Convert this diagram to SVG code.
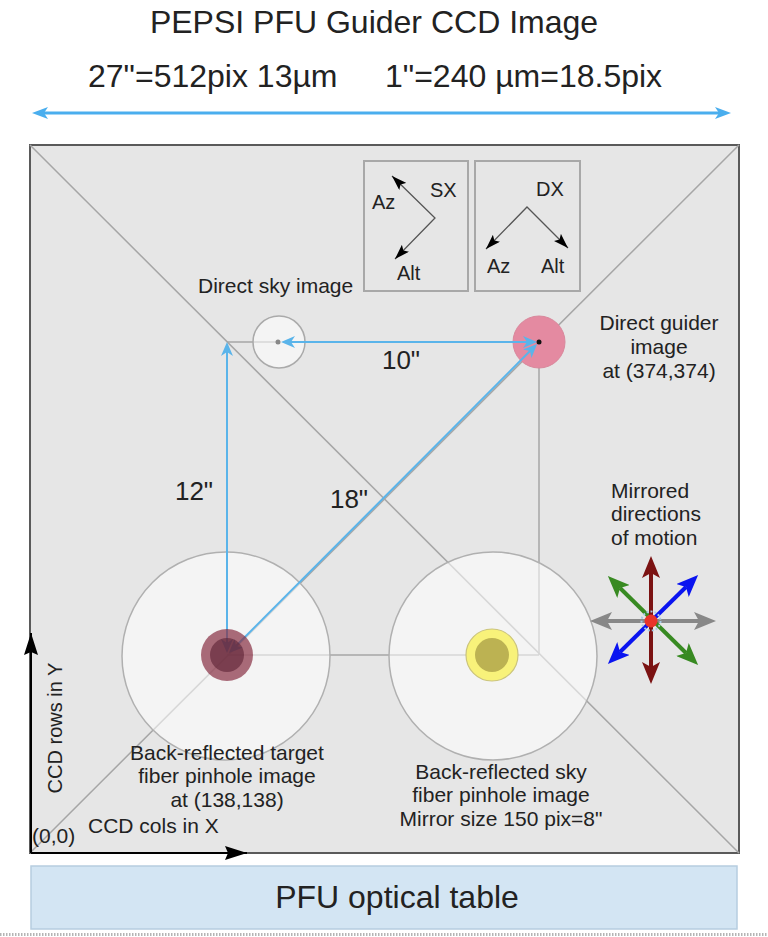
<svg xmlns="http://www.w3.org/2000/svg" width="768" height="937" viewBox="0 0 768 937">
<defs>
<style>
text{font-family:"Liberation Sans",Arial,sans-serif;fill:#222}
.big{font-size:32px}
.lbl{font-size:21px}
.sm{font-size:20px}
.dist{font-size:26px}
.mid{text-anchor:middle}
.guide{stroke:#a6a6a6;stroke-width:1.5;fill:none}
.blue{stroke:#5ab4ea;stroke-width:2;fill:none;marker-start:url(#ab);marker-end:url(#ab)}
.mirror{fill:#ffffff;fill-opacity:0.55;stroke:#b0b0b0;stroke-width:1.5}
.box{fill:#e6e6e6;stroke:#a8a8a8;stroke-width:2}
.dir{stroke:#555;stroke-width:1.3;fill:none;marker-start:url(#ak);marker-end:url(#ak)}
.mv{stroke-width:4;fill:none}
</style>
<marker id="ab" viewBox="0 0 14 12" refX="4" refY="6" markerWidth="14" markerHeight="12" markerUnits="userSpaceOnUse" orient="auto-start-reverse"><path d="M0,0 L14,6 L0,12 L4,6 z" fill="#5ab4ea"/></marker>
<marker id="at" viewBox="0 0 16 12" refX="4" refY="6" markerWidth="16" markerHeight="12" markerUnits="userSpaceOnUse" orient="auto-start-reverse"><path d="M0,0 L16,6 L0,12 L4,6 z" fill="#4aaeee"/></marker>
<marker id="ak" viewBox="0 0 15 10" refX="15" refY="5" markerWidth="15" markerHeight="10" markerUnits="userSpaceOnUse" orient="auto-start-reverse"><path d="M0,0 L15,5 L0,10 L3,5 z" fill="#000"/></marker>
<marker id="ax" viewBox="0 0 22 14" refX="22" refY="7" markerWidth="22" markerHeight="14" markerUnits="userSpaceOnUse" orient="auto"><path d="M0,0 L22,7 L0,14 L3,7 z" fill="#000"/></marker>
<marker id="mg" viewBox="0 0 22 18" refX="5" refY="9" markerWidth="22" markerHeight="18" markerUnits="userSpaceOnUse" orient="auto-start-reverse"><path d="M0,0 L22,9 L0,18 L5,9 z" fill="#888888"/></marker>
<marker id="mr" viewBox="0 0 22 18" refX="5" refY="9" markerWidth="22" markerHeight="18" markerUnits="userSpaceOnUse" orient="auto-start-reverse"><path d="M0,0 L22,9 L0,18 L5,9 z" fill="#7b1212"/></marker>
<marker id="mgr" viewBox="0 0 22 18" refX="5" refY="9" markerWidth="22" markerHeight="18" markerUnits="userSpaceOnUse" orient="auto-start-reverse"><path d="M0,0 L22,9 L0,18 L5,9 z" fill="#388a22"/></marker>
<marker id="mb" viewBox="0 0 22 18" refX="5" refY="9" markerWidth="22" markerHeight="18" markerUnits="userSpaceOnUse" orient="auto-start-reverse"><path d="M0,0 L22,9 L0,18 L5,9 z" fill="#0a14f0"/></marker>
</defs>
<rect width="768" height="937" fill="#ffffff"/>

<g id="title">
<text class="big mid" x="374" y="33">PEPSI PFU Guider CCD Image</text>
<text class="big" y="87"><tspan x="88">27"=512pix 13µm</tspan><tspan x="385">1"=240 µm=18.5pix</tspan></text>
<line x1="44" y1="113" x2="719" y2="113" stroke="#4aaeee" stroke-width="3" marker-start="url(#at)" marker-end="url(#at)"/>
</g>

<g id="ccd-frame">
<rect x="30" y="145" width="709" height="708" fill="#e6e6e6" stroke="#5a5a5a" stroke-width="2"/>
<line class="guide" x1="30" y1="145" x2="739" y2="853"/>
<line class="guide" x1="30" y1="853" x2="739" y2="145"/>
<line class="guide" x1="227" y1="342" x2="279" y2="342"/>
<line class="guide" x1="539" y1="342" x2="539" y2="655"/>
<line class="guide" x1="227" y1="655" x2="539" y2="655"/>
</g>

<g id="sx-box">
<rect class="box" x="364" y="161" width="104" height="130"/>
<polyline class="dir" points="392,176 435,218 395,259"/>
<text class="sm" x="430" y="197">SX</text>
<text class="sm" x="372" y="209">Az</text>
<text class="sm" x="397" y="280">Alt</text>
</g>

<g id="dx-box">
<rect class="box" x="475" y="161" width="105" height="130"/>
<polyline class="dir" points="486,249 527,207 568,248"/>
<text class="sm" x="536" y="196">DX</text>
<text class="sm" x="487" y="273">Az</text>
<text class="sm" x="541" y="273">Alt</text>
</g>

<g id="target-mirror">
<circle class="mirror" cx="226" cy="656" r="104"/>
</g>
<g id="sky-mirror">
<circle class="mirror" cx="493" cy="656" r="104"/>
</g>

<g id="direct-sky">
<circle cx="279" cy="342" r="26" fill="#ffffff" fill-opacity="0.55" stroke="#aaaaaa" stroke-width="1.5"/>
<circle cx="278" cy="342" r="2.5" fill="#888"/>
<text class="lbl" x="198" y="293">Direct sky image</text>
</g>

<g id="direct-guider">
<circle cx="539" cy="342" r="26" fill="#e48aa1" stroke="#d9889c" stroke-width="1"/>
<circle cx="539" cy="342" r="2.5" fill="#111"/>
<text class="lbl mid" x="659" y="330">Direct guider</text>
<text class="lbl mid" x="659" y="354">image</text>
<text class="lbl mid" x="659" y="378">at (374,374)</text>
</g>

<g id="connectors">
<line class="blue" x1="291" y1="342" x2="527" y2="342"/>
<line class="blue" x1="227" y1="643" x2="227" y2="352"/>
<line class="blue" x1="236" y1="646" x2="530" y2="351"/>
</g>

<g id="distances">
<text class="dist mid" x="401" y="369">10"</text>
<text class="dist mid" x="194" y="500">12"</text>
<text class="dist mid" x="349" y="508">18"</text>
</g>

<g id="target-pinhole">
<circle cx="227" cy="655" r="26" fill="#872f43" fill-opacity="0.7"/>
<circle cx="227" cy="655" r="17" fill="#5b2234" fill-opacity="0.6"/>
<text class="lbl mid" x="227" y="760">Back-reflected target</text>
<text class="lbl mid" x="227" y="783">fiber pinhole image</text>
<text class="lbl mid" x="227" y="807">at (138,138)</text>
</g>

<g id="sky-pinhole">
<circle cx="492" cy="655" r="26" fill="#f8f27a" stroke="#cbc47c" stroke-width="1.2"/>
<circle cx="492" cy="655" r="17" fill="#bcb252"/>
<text class="lbl mid" x="501" y="779">Back-reflected sky</text>
<text class="lbl mid" x="501" y="802">fiber pinhole image</text>
<text class="lbl mid" x="501" y="826">Mirror size 150 pix=8"</text>
</g>

<g id="motion">
<text class="lbl" x="611" y="498">Mirrored</text>
<text class="lbl" x="611" y="521">directions</text>
<text class="lbl" x="611" y="545">of motion</text>
<line class="mv" x1="607" y1="621" x2="699" y2="621" stroke="#888888" marker-start="url(#mg)" marker-end="url(#mg)"/>
<line class="mv" x1="620" y1="588" x2="686" y2="653" stroke="#388a22" marker-start="url(#mgr)" marker-end="url(#mgr)"/>
<line class="mv" x1="686" y1="587" x2="620" y2="652" stroke="#0a14f0" marker-start="url(#mb)" marker-end="url(#mb)"/>
<line class="mv" x1="651" y1="573" x2="651" y2="667" stroke="#7b1212" marker-start="url(#mr)" marker-end="url(#mr)"/>
<circle cx="651" cy="621" r="9.5" fill="none" stroke="#a8cbe6" stroke-width="2" stroke-dasharray="2 2"/>
<circle cx="651" cy="621" r="6.5" fill="#e8342a"/>
</g>

<g id="ccd-axes">
<line x1="31" y1="853" x2="31" y2="633" stroke="#000" stroke-width="2" marker-end="url(#ax)"/>
<line x1="31" y1="853" x2="247" y2="853" stroke="#000" stroke-width="2" marker-end="url(#ax)"/>
<text class="lbl mid" transform="translate(62,728) rotate(-90)" style="font-size:20px">CCD rows in Y</text>
<text class="lbl" x="88" y="833">CCD cols in X</text>
<text class="lbl" x="32" y="843">(0,0)</text>
</g>

<g id="optical-table">
<rect x="31" y="866" width="706" height="63" fill="#d3e5f3" stroke="#b6cde0" stroke-width="1.5"/>
<text class="big mid" x="397" y="908">PFU optical table</text>
</g>
<line x1="0" y1="934.5" x2="768" y2="934.5" stroke="#b5b5b5" stroke-width="3" stroke-dasharray="1.5 1.5"/>
</svg>
